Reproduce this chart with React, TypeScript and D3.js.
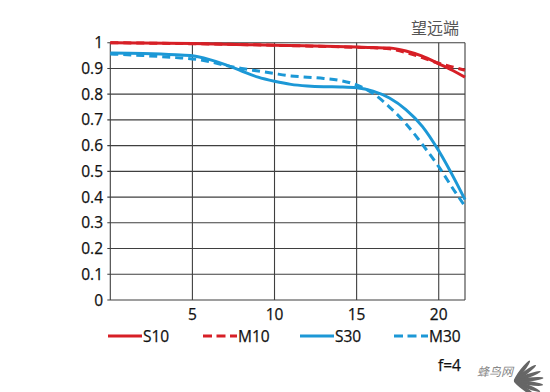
import React from "react";
import * as d3 from "d3";

const xTicks = [5, 10, 15, 20];
const yTicks = [0, 0.1, 0.2, 0.3, 0.4, 0.5, 0.6, 0.7, 0.8, 0.9, 1];
const yTickLabels = ["0", "0.1", "0.2", "0.3", "0.4", "0.5", "0.6", "0.7", "0.8", "0.9", "1"];

const s10X = [0, 5, 10, 15, 16, 17, 17.5, 18, 19, 20, 21, 21.6];
const s10Y = [1.0, 0.997, 0.99, 0.983, 0.981, 0.979, 0.975, 0.968, 0.948, 0.918, 0.887, 0.866];
const m10X = [0, 5, 10, 15, 16, 17, 18, 19, 20, 21, 21.6];
const m10Y = [1.0, 0.996, 0.99, 0.982, 0.98, 0.976, 0.962, 0.942, 0.92, 0.903, 0.893];
const s30X = [0, 2, 4, 5, 6, 7, 8, 9, 10, 11, 12, 13, 14, 15, 16, 17, 18, 19, 20, 21, 21.6];
const s30Y = [0.96, 0.958, 0.953, 0.949, 0.935, 0.915, 0.89, 0.866, 0.85, 0.838, 0.832, 0.829, 0.828, 0.825, 0.812, 0.785, 0.74, 0.675, 0.58, 0.465, 0.39];
const m30X = [0, 2, 4, 5, 6, 7, 8, 9, 10, 11, 12, 13, 14, 15, 16, 17, 18, 19, 20, 21, 21.6];
const m30Y = [0.956, 0.95, 0.942, 0.937, 0.927, 0.912, 0.9, 0.89, 0.88, 0.871, 0.866, 0.861, 0.853, 0.836, 0.803, 0.75, 0.685, 0.605, 0.518, 0.42, 0.365];

const seriesNames = ["S10", "M10", "S30", "M30"];

const RED = "#d71f26";
const BLUE = "#1c98d6";

export default function App() {
  const x = d3.scaleLinear().domain([0, 21.6]).range([110.3, 465]);
  const y = d3.scaleLinear().domain([0, 1]).range([300, 42.7]);
  const line = d3
    .line<[number, number]>()
    .x((d) => x(d[0]))
    .y((d) => y(d[1]))
    .curve(d3.curveMonotoneX);
  const zip = (a: number[], b: number[]) => a.map((v, i) => [v, b[i]] as [number, number]);

  const series = [
    { name: seriesNames[0], d: zip(s10X, s10Y), color: RED, dash: "none" },
    { name: seriesNames[1], d: zip(m10X, m10Y), color: RED, dash: "8,5" },
    { name: seriesNames[2], d: zip(s30X, s30Y), color: BLUE, dash: "none" },
    { name: seriesNames[3], d: zip(m30X, m30Y), color: BLUE, dash: "8,5" },
  ];
  const legendX = [108, 203, 300, 394];
  const font = "'Open Sans', 'Noto Sans', sans-serif";
  const grid = "#3f3f3f";
  const ink = "#111";

  const feathers = [-52, -36, -20, -6, 8, 22, 36];

  return (
    <svg width={550} height={392} style={{ position: "absolute", left: 0, top: 0, background: "#fff" }} fontFamily={font}>
      <rect width={550} height={392} fill="#fff" />
      {yTicks.map((t) => (
        <line key={"h" + t} x1={x(0) - 3} x2={x(21.6)} y1={y(t)} y2={y(t)} stroke={grid} strokeWidth={1.1} />
      ))}
      {xTicks.map((t) => (
        <line key={"v" + t} x1={x(t)} x2={x(t)} y1={y(1)} y2={y(0)} stroke={grid} strokeWidth={1.1} />
      ))}
      <line x1={x(0)} x2={x(0)} y1={y(1)} y2={y(0)} stroke={grid} strokeWidth={1.1} />
      <line x1={x(21.6)} x2={x(21.6)} y1={y(1)} y2={y(0)} stroke={grid} strokeWidth={1.1} />
      {yTicks.map((t, i) => (
        <text key={"yl" + t} x={103} y={y(t) + 5.5} textAnchor="end" fontSize={15.5} fill={ink} stroke={ink} strokeWidth={0.25}>
          {yTickLabels[i]}
        </text>
      ))}
      {xTicks.map((t) => (
        <text key={"xl" + t} x={x(t)} y={319.5} textAnchor="middle" fontSize={15.5} fill={ink} stroke={ink} strokeWidth={0.25}>
          {t}
        </text>
      ))}
      {series.map((s) => (
        <path key={s.name} d={line(s.d) || ""} fill="none" stroke={s.color} strokeWidth={3} strokeDasharray={s.dash} />
      ))}
      {series.map((s, i) => (
        <g key={"lg" + s.name}>
          <line x1={legendX[i]} x2={legendX[i] + 34} y1={336} y2={336} stroke={s.color} strokeWidth={3} strokeDasharray={s.dash === "none" ? "none" : "9,4.5"} />
          <text x={legendX[i] + 35} y={341.5} fontSize={15.5} fill={ink} stroke={ink} strokeWidth={0.25}>
            {s.name}
          </text>
        </g>
      ))}
      <text x={411} y={34} fontSize={16} fill="#555" fontFamily="'Noto Sans CJK SC', sans-serif">
        望远端
      </text>
      <text x={438} y={371} fontSize={15.5} fill={ink} stroke={ink} strokeWidth={0.25}>
        f=4
      </text>
      <text x={477} y={376} fontSize={12} fill="#888" fontStyle="italic" fontFamily="'Noto Sans CJK SC', sans-serif">
        蜂鸟网
      </text>
      <g transform="translate(514,381)">
        {feathers.map((a, i) => (
          <ellipse key={i} cx={15 - Math.abs(a) * 0.04} cy={0} rx={15 - Math.abs(a) * 0.04} ry={2} fill="#666" transform={`rotate(${a})`} />
        ))}
      </g>
    </svg>
  );
}
